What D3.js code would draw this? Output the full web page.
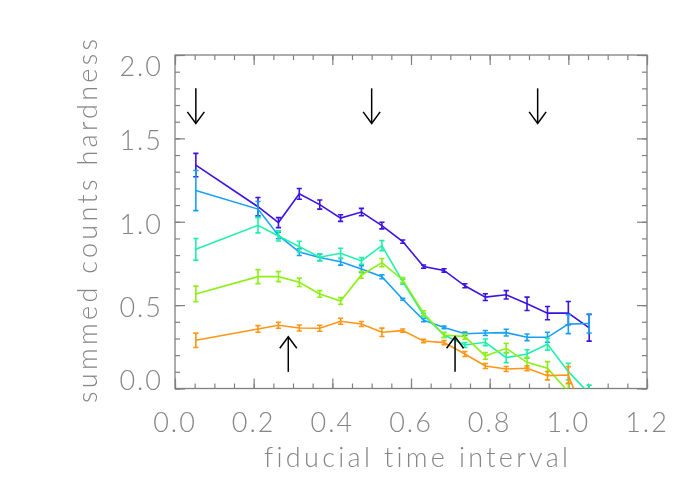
<!DOCTYPE html>
<html>
<head>
<meta charset="utf-8">
<script src="https://cdn.jsdelivr.net/npm/d3@7"></script>
<style>
  html, body { margin: 0; padding: 0; background: #fff; }
  svg { display: block; }
  .labels { opacity: 0.995; will-change: transform; }
  text { font-family: Lato, "DejaVu Sans", sans-serif; font-weight: 300; fill: #858585;
         font-variant-ligatures: none; font-feature-settings: "liga" 0;
         -webkit-font-smoothing: antialiased; }
</style>
</head>
<body>
<svg id="chart" width="700" height="500"></svg>
<script>
// ---------- data ----------
const times = [0.053, 0.211, 0.263, 0.316, 0.368, 0.421, 0.474, 0.526, 0.579, 0.632, 0.684, 0.737, 0.789, 0.842, 0.895, 0.947, 1.000, 1.053];

const purpleVals = [1.340, 1.090, 0.995, 1.167, 1.103, 1.022, 1.058, 0.977, 0.881, 0.731, 0.708, 0.616, 0.548, 0.562, 0.508, 0.452, 0.452, 0.364];
const purpleErr  = [0.070, 0.055, 0.030, 0.032, 0.027, 0.020, 0.022, 0.020, 0.010, 0.010, 0.010, 0.012, 0.020, 0.025, 0.040, 0.040, 0.070, 0.080];

const blueVals = [1.187, 1.076, 0.918, 0.818, 0.786, 0.760, 0.716, 0.670, 0.535, 0.410, 0.366, 0.328, 0.333, 0.335, 0.307, 0.307, 0.386, 0.390];
const blueErr  = [0.120, 0.045, 0.020, 0.020, 0.020, 0.020, 0.020, 0.012, 0.006, 0.010, 0.008, 0.010, 0.015, 0.020, 0.020, 0.030, 0.057, 0.057];

const tealVals = [0.835, 0.979, 0.915, 0.851, 0.787, 0.811, 0.765, 0.857, 0.641, 0.441, 0.321, 0.261, 0.277, 0.185, 0.207, 0.265, 0.101, -0.030];
const tealErr  = [0.065, 0.046, 0.030, 0.032, 0.020, 0.030, 0.020, 0.030, 0.015, 0.010, 0.015, 0.015, 0.020, 0.030, 0.025, 0.035, 0.050, 0.050];

const greenVals = [0.567, 0.671, 0.671, 0.637, 0.567, 0.525, 0.681, 0.755, 0.651, 0.451, 0.321, 0.311, 0.195, 0.241, 0.157, 0.121, -0.020, -0.300];
const greenErr  = [0.047, 0.042, 0.030, 0.025, 0.020, 0.020, 0.020, 0.025, 0.015, 0.015, 0.015, 0.015, 0.020, 0.030, 0.030, 0.040, 0.050, 0.050];

const orangeVals = [0.289, 0.357, 0.379, 0.363, 0.361, 0.403, 0.387, 0.337, 0.347, 0.285, 0.275, 0.207, 0.135, 0.117, 0.121, 0.077, 0.081, -0.240];
const orangeErr  = [0.043, 0.020, 0.018, 0.018, 0.018, 0.018, 0.015, 0.025, 0.010, 0.010, 0.012, 0.015, 0.015, 0.015, 0.015, 0.025, 0.050, 0.050];

const seriesNames  = ["purple", "blue", "teal", "green", "orange"];
const seriesColors = ["#3c12e2", "#18a0f4", "#1ef0aa", "#8cf014", "#ff9616"];

const xTickValues = [0.0, 0.2, 0.4, 0.6, 0.8, 1.0, 1.2];
const xTickLabels = ["0.0", "0.2", "0.4", "0.6", "0.8", "1.0", "1.2"];
const yTickValues = [0.0, 0.5, 1.0, 1.5, 2.0];
const yTickLabels = ["0.0", "0.5", "1.0", "1.5", "2.0"];

// arrows (data coordinates): from -> to (tip)
const downArrowX = [0.053, 0.500, 0.922];
const downArrowFrom = 1.80, downArrowTo = 1.59;
const upArrowX = [0.288, 0.712];
const upArrowFrom = 0.10, upArrowTo = 0.31;

const xTitle = "fiducial time interval";
const yTitle = "summed counts hardness";

// ---------- layout ----------
const svg = d3.select("#chart");
const L = 175, T = 55, R = 647, B = 388.5;
const gray = "#808080";

const x = d3.scaleLinear().domain([0, 1.2]).range([L, R]);
const y = d3.scaleLinear().domain([0, 2]).range([B, T]);

svg.append("defs").append("clipPath").attr("id", "plotclip")
  .append("rect").attr("x", L).attr("y", T).attr("width", R - L).attr("height", B - T);

function styleAxis(g) {
  g.select(".domain").remove();
  g.selectAll("line").attr("stroke", gray).attr("stroke-width", 1.2);
  g.selectAll("text").remove();
}
const xMinor = x.ticks(24), yMinor = y.ticks(20);
svg.append("g").attr("transform", `translate(0,${B})`)
  .call(d3.axisBottom(x).tickValues(xMinor).tickSize(-5)).call(styleAxis);
svg.append("g").attr("transform", `translate(0,${B})`)
  .call(d3.axisBottom(x).tickValues(xTickValues).tickSize(-10)).call(styleAxis);
svg.append("g").attr("transform", `translate(0,${T})`)
  .call(d3.axisTop(x).tickValues(xMinor).tickSize(-5)).call(styleAxis);
svg.append("g").attr("transform", `translate(0,${T})`)
  .call(d3.axisTop(x).tickValues(xTickValues).tickSize(-10)).call(styleAxis);
svg.append("g").attr("transform", `translate(${L},0)`)
  .call(d3.axisLeft(y).tickValues(yMinor).tickSize(-5)).call(styleAxis);
svg.append("g").attr("transform", `translate(${L},0)`)
  .call(d3.axisLeft(y).tickValues(yTickValues).tickSize(-10)).call(styleAxis);
svg.append("g").attr("transform", `translate(${R},0)`)
  .call(d3.axisRight(y).tickValues(yMinor).tickSize(-5)).call(styleAxis);
svg.append("g").attr("transform", `translate(${R},0)`)
  .call(d3.axisRight(y).tickValues(yTickValues).tickSize(-10)).call(styleAxis);

svg.append("rect").attr("x", L).attr("y", T).attr("width", R - L).attr("height", B - T)
  .attr("fill", "none").attr("stroke", gray).attr("stroke-width", 1.3);

const fs = 27;
const labels = svg.append("g").attr("class", "labels");
labels.append("g").selectAll("text").data(xTickValues).join("text")
  .attr("x", d => x(d)).attr("y", 431.5)
  .attr("text-anchor", "middle").style("font-size", fs + "px").style("letter-spacing", "2px")
  .text((d, i) => xTickLabels[i]);

labels.append("g").selectAll("text").data(yTickValues).join("text")
  .attr("x", 163)
  .attr("y", d => Math.max(T + 11, Math.min(B - 8.5, y(d) + 2)) + 10)
  .attr("text-anchor", "end").style("font-size", fs + "px").style("letter-spacing", "2px")
  .text((d, i) => yTickLabels[i]);

labels.append("text").attr("x", 416).attr("y", 467)
  .attr("text-anchor", "middle").style("font-size", fs + "px")
  .attr("textLength", 304).attr("lengthAdjust", "spacing")
  .text(xTitle);
labels.append("text").attr("transform", "translate(97,221) rotate(-90)")
  .attr("text-anchor", "middle").style("font-size", fs + "px")
  .attr("textLength", 364).attr("lengthAdjust", "spacing")
  .text(yTitle);

const seriesData = [
  [purpleVals, purpleErr],
  [blueVals, blueErr],
  [tealVals, tealErr],
  [greenVals, greenErr],
  [orangeVals, orangeErr]
];
const plot = svg.append("g").attr("clip-path", "url(#plotclip)");
const line = d3.line().x(d => x(d.t)).y(d => y(d.v));
const cap = 2.6;

seriesData.forEach(([vals, errs], si) => {
  const pts = times.map((t, i) => ({ t, v: vals[i], e: errs[i] }));
  const col = seriesColors[si];
  const g = plot.append("g").attr("class", seriesNames[si]);
  g.append("path").datum(pts).attr("d", line)
    .attr("fill", "none").attr("stroke", col).attr("stroke-width", 1.6);
  const eb = g.selectAll("g.eb").data(pts).join("g").attr("class", "eb")
    .attr("stroke", col).attr("stroke-width", 1.6);
  eb.append("line").attr("x1", d => x(d.t)).attr("x2", d => x(d.t))
    .attr("y1", d => y(d.v - d.e)).attr("y2", d => y(d.v + d.e));
  eb.append("line").attr("x1", d => x(d.t) - cap).attr("x2", d => x(d.t) + cap)
    .attr("y1", d => y(d.v - d.e)).attr("y2", d => y(d.v - d.e));
  eb.append("line").attr("x1", d => x(d.t) - cap).attr("x2", d => x(d.t) + cap)
    .attr("y1", d => y(d.v + d.e)).attr("y2", d => y(d.v + d.e));
});

function arrow(xv, fromV, toV) {
  const xp = x(xv), y0 = y(fromV), y1 = y(toV);
  const dir = y1 > y0 ? 1 : -1;
  const hw = 8.5, hl = 11.5;
  const g = svg.append("g").attr("stroke", "#000").attr("stroke-width", 1.5).attr("fill", "none");
  g.append("line").attr("x1", xp).attr("x2", xp).attr("y1", y0).attr("y2", y1);
  g.append("path").attr("d", `M${xp - hw},${y1 - dir * hl}L${xp},${y1}L${xp + hw},${y1 - dir * hl}`);
}
downArrowX.forEach(v => arrow(v, downArrowFrom, downArrowTo));
upArrowX.forEach(v => arrow(v, upArrowFrom, upArrowTo));
</script>
</body>
</html>
